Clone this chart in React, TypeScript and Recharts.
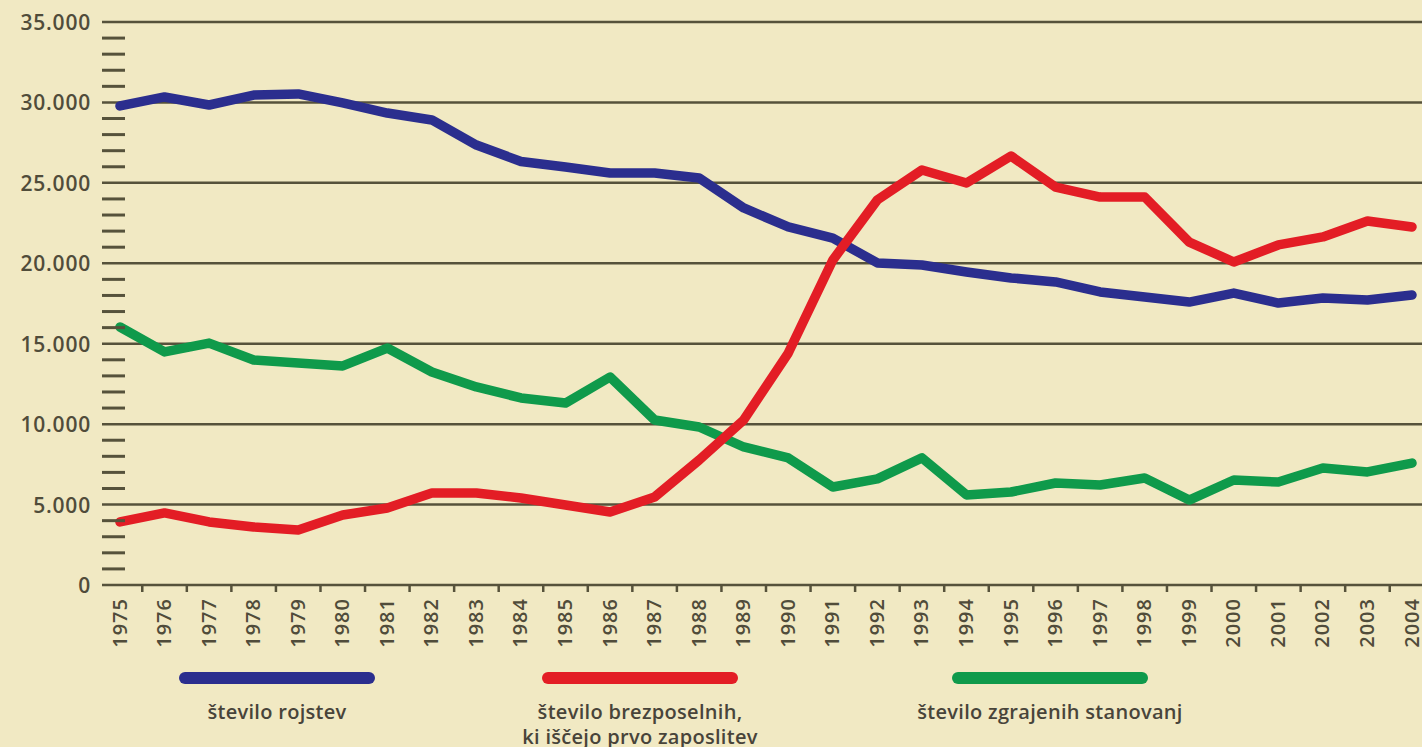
import React from 'react';
import { LineChart, Line, XAxis, YAxis, ReferenceLine } from 'recharts';

const years = [1975, 1976, 1977, 1978, 1979, 1980, 1981, 1982, 1983, 1984, 1985, 1986, 1987, 1988, 1989, 1990, 1991, 1992, 1993, 1994, 1995, 1996, 1997, 1998, 1999, 2000, 2001, 2002, 2003, 2004];

const births = [29780, 30340, 29840, 30460, 30530, 29970, 29340, 28910, 27350, 26330, 25990, 25610, 25610, 25300, 23440, 22260, 21570, 20020, 19890, 19460, 19090, 18840, 18220, 17900, 17590, 18150, 17530, 17840, 17720, 18030];

const unemployed = [3920, 4480, 3920, 3610, 3420, 4350, 4790, 5720, 5720, 5410, 4970, 4540, 5470, 7770, 10260, 14420, 20200, 23940, 25800, 24990, 26670, 24740, 24120, 24120, 21320, 20080, 21140, 21640, 22630, 22260];

const dwellings = [16040, 14490, 15040, 13990, 13800, 13620, 14730, 13240, 12310, 11630, 11310, 12930, 10260, 9820, 8580, 7900, 6090, 6600, 7900, 5600, 5780, 6340, 6220, 6650, 5280, 6530, 6400, 7270, 7030, 7580];

const yMajor = [0, 5000, 10000, 15000, 20000, 25000, 30000, 35000];
const yTicks = Array.from({ length: 36 }, (_, i) => i * 1000);
const xTicks = years.flatMap((y, i) => (i < years.length - 1 ? [y, y + 0.5] : [y]));

const seriesKeys = ['births', 'dwellings', 'unemployed'];
const seriesColors: Record<string, string> = {
  births: '#2b2e8e',
  unemployed: '#e31d25',
  dwellings: '#0f9a4b',
};
const legendItems = [
  { key: 'births', lines: ['število rojstev'] },
  { key: 'unemployed', lines: ['število brezposelnih,', 'ki iščejo prvo zaposlitev'] },
  { key: 'dwellings', lines: ['število zgrajenih stanovanj'] },
];

const data = years.map((year, i) => ({
  year,
  births: births[i],
  unemployed: unemployed[i],
  dwellings: dwellings[i],
}));

const BG = '#f1e9c3';
const INK = '#48443a';
const GRID = '#56523b';
const FONT = '"Open Sans", "Noto Sans", sans-serif';

const fmt = (v: number) => {
  if (v < 1000) return String(v);
  const th = Math.floor(v / 1000);
  const rest = String(v % 1000).padStart(3, '0');
  return `${th}.${rest}`;
};

const YTick = (props: any) => {
  const { x, y, payload } = props;
  const v = payload.value as number;
  if (v % 5000 === 0) {
    return (
      <text
        x={x - 11}
        y={y}
        textAnchor="end"
        dominantBaseline="central"
        fontFamily={FONT}
        fontSize={21}
        fontWeight={600}
        letterSpacing={0.8}
        fill="#504c3a"
      >
        {fmt(v)}
      </text>
    );
  }
  return <line x1={x} x2={x + 23} y1={y} y2={y} stroke={GRID} strokeWidth={3} />;
};

const XTick = (props: any) => {
  const { x, y, payload } = props;
  const v = payload.value as number;
  if (!Number.isInteger(v)) {
    return <line x1={x} x2={x} y1={y} y2={y + 7} stroke={GRID} strokeWidth={2.5} />;
  }
  return (
    <text
      transform={`translate(${x - 1},${y + 13}) rotate(-90)`}
      textAnchor="end"
      dominantBaseline="central"
      fontFamily={FONT}
      fontSize={20}
      fontWeight={600}
      letterSpacing={1}
      fill="#504c3a"
    >
      {v}
    </text>
  );
};

const legendCenters = [277, 640, 1050];

export default function App() {
  return (
    <div
      style={{
        position: 'absolute',
        left: 0,
        top: 0,
        width: 1422,
        height: 747,
        background: BG,
        overflow: 'hidden',
        fontFamily: FONT,
      }}
    >
      <LineChart
        width={1422}
        height={747}
        data={data}
        margin={{ top: 22, right: 0, bottom: 87, left: 0 }}
      >
        <XAxis
          dataKey="year"
          type="number"
          domain={[1975, 2004]}
          ticks={xTicks}
          interval={0}
          tick={<XTick />}
          tickLine={false}
          axisLine={false}
          tickSize={0}
          tickMargin={0}
          padding={{ left: 18, right: 10 }}
          height={75}
        />
        <YAxis
          type="number"
          domain={[0, 35000]}
          ticks={yTicks}
          interval={0}
          tick={<YTick />}
          tickLine={false}
          axisLine={false}
          tickSize={0}
          tickMargin={0}
          width={102}
        />
        {yMajor.map((v) => (
          <ReferenceLine key={v} y={v} stroke={GRID} strokeWidth={2.5} />
        ))}
        {seriesKeys.map((k) => (
          <Line
            key={k}
            type="linear"
            dataKey={k}
            stroke={seriesColors[k]}
            strokeWidth={9.5}
            strokeLinejoin="round"
            strokeLinecap="round"
            dot={false}
            activeDot={false}
            isAnimationActive={false}
          />
        ))}
      </LineChart>
      {legendItems.map((item, i) => (
        <React.Fragment key={item.key}>
          <div
            style={{
              position: 'absolute',
              left: legendCenters[i] - 98,
              top: 672,
              width: 196,
              height: 12,
              borderRadius: 6,
              background: seriesColors[item.key],
            }}
          />
          <div
            style={{
              position: 'absolute',
              left: legendCenters[i] - 200,
              width: 400,
              top: 699,
              textAlign: 'center',
              fontSize: 20,
              fontWeight: 600,
              letterSpacing: 0.3,
              lineHeight: '25px',
              color: INK,
            }}
          >
            {item.lines.map((l) => (
              <div key={l}>{l}</div>
            ))}
          </div>
        </React.Fragment>
      ))}
    </div>
  );
}
